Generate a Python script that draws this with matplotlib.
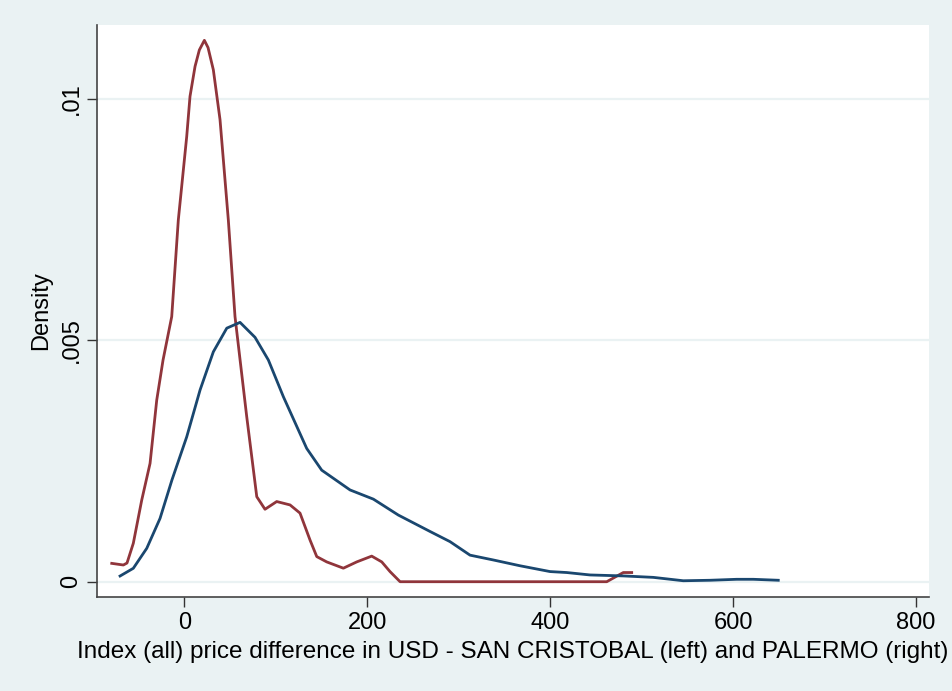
import numpy as np
import matplotlib
matplotlib.use("Agg")
import matplotlib.pyplot as plt

plt.rcParams['font.family'] = ['Liberation Sans', 'DejaVu Sans']

# kernel density, red curve (left group)
sc_x = [-79.4, -66.7, -62.7, -55.8, -46.6, -37.5, -30.2, -23.3, -13.8, -6.6, 2.6, 6.2, 11.7,
        16.4, 21.9, 25.9, 31.7, 39.0, 48.1, 55.4, 68.2, 79.2, 88.2, 101.0, 115.6, 126.5, 137.5,
        144.8, 155.7, 173.9, 188.5, 204.9, 215.9, 224.9, 235.9, 461.9, 480.0, 489.2]
sc_y = [0.00038, 0.000346, 0.000387, 0.000796, 0.00169, 0.00245, 0.00376, 0.00459, 0.00549,
        0.00749, 0.00922, 0.01005, 0.01067, 0.01101, 0.01121, 0.01106, 0.01060, 0.00957,
        0.00749, 0.00549, 0.00342, 0.00176, 0.00150, 0.00166, 0.00159, 0.00142, 0.00086,
        0.00052, 0.00041, 0.00028, 0.00041, 0.00053, 0.00041, 0.00021, 0.0, 0.0, 0.00019,
        0.00019]

# kernel density, blue curve (right group)
pa_x = [-70.3, -55.8, -41.1, -26.6, -13.5, 2.6, 17.2, 31.7, 46.4, 60.9, 77.3, 91.9, 108.3,
        133.8, 150.2, 181.2, 206.7, 234.0, 268.7, 290.5, 312.4, 337.9, 367.1, 399.9, 418.2,
        443.6, 480.0, 512.8, 545.6, 574.9, 604.0, 622.2, 649.5]
pa_y = [0.000118, 0.000278, 0.000692, 0.00131, 0.00211, 0.00300, 0.00397, 0.00476, 0.00525,
        0.00537, 0.00506, 0.00459, 0.00383, 0.00276, 0.00231, 0.00190, 0.00171, 0.00138,
        0.00104, 0.00083, 0.00055, 0.00045, 0.00033, 0.00021, 0.00019, 0.00014, 0.00012,
        0.00009, 0.00002, 0.00003, 0.00005, 0.00005, 0.00003]

xticks = [0, 200, 400, 600, 800]
yticks = [0, 0.005, 0.01]
ytick_labels = ["0", ".005", ".01"]

bg = '#EAF2F3'
fig = plt.figure(figsize=(9.53, 6.91), dpi=100, facecolor=bg)
ax = fig.add_axes([0.1018, 0.136, 0.873, 0.828])
ax.set_facecolor('white')

for t in yticks:
    ax.axhline(t, color=bg, lw=1.6, zorder=1)

ax.plot(sc_x, sc_y, color='#90353B', lw=2.0, zorder=3)
ax.plot(pa_x, pa_y, color='#1A476F', lw=2.0, zorder=3)

ax.set_xlim(-95.5, 814.3)
ax.set_ylim(-0.000317, 0.01153)
ax.set_xticks(xticks)
ax.set_yticks(yticks)
ax.set_yticklabels(ytick_labels, rotation=90, va='center')
ax.tick_params(axis='both', direction='out', length=7.5, width=1, color='#333333',
               labelsize=17, pad=3)

for s in ['top', 'right']:
    ax.spines[s].set_visible(False)
for s in ['left', 'bottom']:
    ax.spines[s].set_color('#444444')
    ax.spines[s].set_linewidth(1.2)

ax.set_xlabel("Index (all) price difference in USD - SAN CRISTOBAL (left) and PALERMO (right)",
              fontsize=17.5, labelpad=5)
ax.set_ylabel("Density", fontsize=17, labelpad=6)

fig.savefig("out.png", dpi=100, facecolor=bg)
